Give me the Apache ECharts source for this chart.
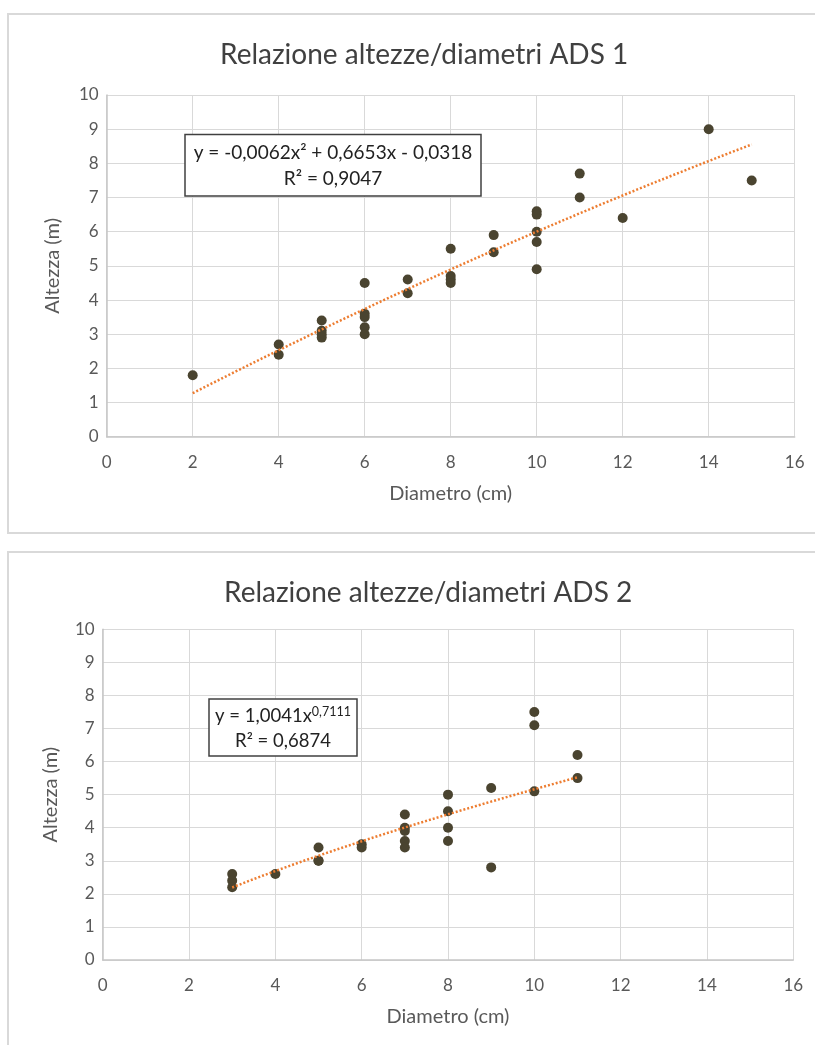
<!DOCTYPE html>
<html>
<head>
<meta charset="utf-8">
<script src="https://cdn.jsdelivr.net/npm/echarts@6/dist/echarts.min.js"></script>
<style>
html,body{margin:0;padding:0;background:#fff;}
#c{width:815px;height:1045px;}
</style>
</head>
<body>
<div id="c"></div>
<script>
// ---- Data ----
const titles = ['Relazione altezze/diametri ADS 1', 'Relazione altezze/diametri ADS 2'];
const xAxisName = 'Diametro (cm)';
const yAxisName = 'Altezza (m)';

// ADS 1
const diam1 = [2, 4, 4, 5, 5, 5, 5, 6, 6, 6, 6, 6, 7, 7, 8, 8, 8, 8, 9, 9, 10, 10, 10, 10, 10, 11, 11, 12, 14, 15];
const alt1  = [1.8, 2.7, 2.4, 3.4, 3.1, 3.0, 2.9, 4.5, 3.6, 3.5, 3.2, 3.0, 4.6, 4.2, 5.5, 4.7, 4.6, 4.5, 5.9, 5.4, 6.6, 6.5, 6.0, 5.7, 4.9, 7.7, 7.0, 6.4, 9.0, 7.5];
// polynomial trendline shown in the chart: y = a x^2 + b x + c
const poly1 = [-0.0062, 0.6653, -0.0318];
const trend1Range = [2, 15];
const eq1 = ['y = -0,0062x² + 0,6653x - 0,0318', 'R² = 0,9047'];

// ADS 2
const diam2 = [3, 3, 3, 4, 5, 5, 5, 6, 6, 7, 7, 7, 7, 7, 8, 8, 8, 8, 9, 9, 10, 10, 10, 11, 11];
const alt2  = [2.6, 2.4, 2.2, 2.6, 3.4, 3.0, 3.0, 3.5, 3.4, 4.4, 4.0, 3.9, 3.6, 3.4, 5.0, 4.5, 4.0, 3.6, 5.2, 2.8, 7.5, 7.1, 5.1, 6.2, 5.5];
// power trendline shown in the chart: y = k x^p
const pow2 = [1.0041, 0.7111];
const trend2Range = [3, 11];
const eq2 = ['y = 1,0041x', '0,7111', 'R² = 0,6874'];

const xTicks = [0, 2, 4, 6, 8, 10, 12, 14, 16];
const yTicks = [0, 1, 2, 3, 4, 5, 6, 7, 8, 9, 10];

// ---- Build ----
function pairs(xs, ys){ return xs.map((x,i)=>[x, ys[i]]); }
function curve(range, fn){
  const pts = [];
  for (let x = range[0]; x <= range[1] + 1e-9; x += 0.25) pts.push([x, fn(x)]);
  return pts;
}
const trend1 = curve(trend1Range, x => poly1[0]*x*x + poly1[1]*x + poly1[2]);
const trend2 = curve(trend2Range, x => pow2[0]*Math.pow(x, pow2[1]));

const FONT = 'Lato';
const GRID_COLOR = '#d9d9d9';
const AXIS_COLOR = '#c6c6c6';
const LABEL_COLOR = '#595959';
const MARK = '#4a4430';
const ORANGE = '#ed7d31';

function xAxis(gi){
  return {
    type:'value', gridIndex:gi, min:xTicks[0], max:xTicks[xTicks.length-1], interval:2,
    name:xAxisName, nameLocation:'middle', nameGap:47,
    nameTextStyle:{fontFamily:FONT, fontSize:20, color:LABEL_COLOR},
    axisLine:{show:true, lineStyle:{color:AXIS_COLOR, width:1.5}},
    axisTick:{show:false},
    axisLabel:{fontFamily:FONT, fontSize:17, color:LABEL_COLOR, margin:17},
    splitLine:{show:true, lineStyle:{color:GRID_COLOR, width:1}}
  };
}
function yAxis(gi, gap){
  return {
    type:'value', gridIndex:gi, min:yTicks[0], max:yTicks[yTicks.length-1], interval:1,
    name:yAxisName, nameLocation:'middle', nameGap:gap, nameRotate:90,
    nameTextStyle:{fontFamily:FONT, fontSize:20, color:LABEL_COLOR},
    axisLine:{show:true, lineStyle:{color:AXIS_COLOR, width:1.5}},
    axisTick:{show:false},
    axisLabel:{fontFamily:FONT, fontSize:17, color:LABEL_COLOR, margin:8},
    splitLine:{show:true, lineStyle:{color:GRID_COLOR, width:1}}
  };
}
function scatter(gi, data){
  return {type:'scatter', xAxisIndex:gi, yAxisIndex:gi, data:data, symbolSize:10,
    itemStyle:{color:MARK, opacity:1}, z:3, silent:true};
}
function trend(gi, data){
  return {type:'line', xAxisIndex:gi, yAxisIndex:gi, data:data, showSymbol:false, smooth:false,
    lineStyle:{color:ORANGE, width:2.5, type:[2,2]}, z:4, silent:true};
}

const chart = echarts.init(document.getElementById('c'), null, {renderer:'canvas'});
chart.setOption({
  animation:false,
  backgroundColor:'#fff',
  title:[
    {text:titles[0], left:215, top:36, textStyle:{fontFamily:FONT, fontSize:28, fontWeight:'normal', color:'#404040'}},
    {text:titles[1], left:219, top:574, textStyle:{fontFamily:FONT, fontSize:28, fontWeight:'normal', color:'#404040'}}
  ],
  grid:[
    {left:106.7, top:95, width:688, height:341.7},
    {left:102.7, top:629.3, width:690.6, height:330.7}
  ],
  xAxis:[xAxis(0), xAxis(1)],
  yAxis:[yAxis(0, 44), yAxis(1, 42)],
  series:[
    trend(0, trend1), scatter(0, pairs(diam1, alt1)),
    trend(1, trend2), scatter(1, pairs(diam2, alt2))
  ],
  graphic:[
    {type:'rect', shape:{x:8, y:14, width:820, height:519}, style:{fill:null, stroke:'#d9d9d9', lineWidth:2}, silent:true},
    {type:'rect', shape:{x:8, y:552, width:820, height:520}, style:{fill:null, stroke:'#d9d9d9', lineWidth:2}, silent:true},
    // equation box 1
    {type:'rect', shape:{x:185, y:134.5, width:296, height:61.5}, style:{fill:'#fff', stroke:'#404040', lineWidth:1.5}, z:10, silent:true},
    {type:'text', x:333, y:166, z:11, silent:true,
      style:{text:eq1.join('\n'), fontFamily:FONT, fontSize:19, fill:'#222', align:'center', verticalAlign:'middle', lineHeight:26}},
    // equation box 2
    {type:'rect', shape:{x:209, y:699, width:148, height:57}, style:{fill:'#fff', stroke:'#404040', lineWidth:1.5}, z:10, silent:true},
    {type:'text', x:283, y:729, z:11, silent:true,
      style:{text:eq2[0] + '{sup|' + eq2[1] + '}\n' + eq2[2],
        fontFamily:FONT, fontSize:18.5, fill:'#222', align:'center', verticalAlign:'middle', lineHeight:25,
        rich:{sup:{fontFamily:FONT, fontSize:12.5, fill:'#222', padding:[0,0,9,0], lineHeight:25}}}}
  ]
});
</script>
</body>
</html>
